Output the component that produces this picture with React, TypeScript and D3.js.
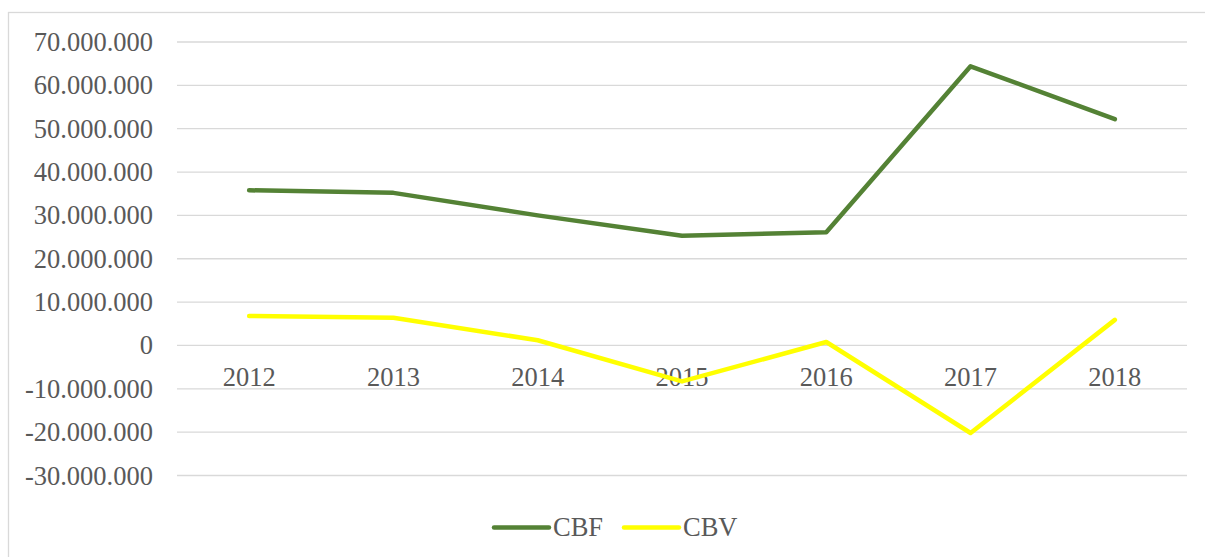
import React from "react";
import * as d3 from "d3";

const years = ["2012", "2013", "2014", "2015", "2016", "2017", "2018"];
const cbf = [35800000, 35200000, 30000000, 25300000, 26100000, 64400000, 52200000];
const cbv = [6800000, 6400000, 1200000, -8300000, 800000, -20200000, 5900000];
const yTicks = [70000000, 60000000, 50000000, 40000000, 30000000, 20000000, 10000000, 0, -10000000, -20000000, -30000000];
const seriesNames = ["CBF", "CBV"];
const seriesColors = ["#548235", "#FFFF00"];

const W = 1205;
const H = 557;
const left = 177;
const right = 1187;
const top = 42;
const bottom = 475.5;

const fmt = (v: number) => {
  if (v === 0) return "0";
  const s = d3.format(",")(Math.abs(v)).replace(/,/g, ".");
  return (v < 0 ? "-" : "") + s;
};

export default function App() {
  const x = d3.scaleBand<string>().domain(years).range([left, right]);
  const y = d3.scaleLinear().domain([-30000000, 70000000]).range([bottom, top]);
  const cx = (d: string) => (x(d) ?? 0) + x.bandwidth() / 2;
  const line = d3
    .line<number>()
    .x((_, i) => cx(years[i]))
    .y((v) => y(v));
  const font = "'Liberation Serif', 'Times New Roman', serif";
  const series = [cbf, cbv];
  return (
    <div style={{ position: "absolute", left: 0, top: 0 }}>
      <svg width={W} height={H} style={{ display: "block" }}>
        <rect x={0} y={0} width={W} height={H} fill="#fff" />
        <rect x={8.5} y={12.5} width={1230} height={600} fill="#fff" stroke="#d9d9d9" strokeWidth={1.3} />
        {yTicks.map((t) => (
          <g key={t}>
            <line x1={left} x2={right} y1={y(t)} y2={y(t)} stroke="#d9d9d9" strokeWidth={1.3} />
            <text x={153} y={y(t) + 9} textAnchor="end" fontFamily={font} fontSize={26.5} fill="#595959">
              {fmt(t)}
            </text>
          </g>
        ))}
        {years.map((yr) => (
          <text key={yr} x={cx(yr)} y={386} textAnchor="middle" fontFamily={font} fontSize={26.5} fill="#595959">
            {yr}
          </text>
        ))}
        {series.map((s, i) => (
          <path
            key={i}
            d={line(s) ?? ""}
            fill="none"
            stroke={seriesColors[i]}
            strokeWidth={4.5}
            strokeLinejoin="round"
            strokeLinecap="round"
          />
        ))}
        {seriesNames.map((n, i) => {
          const lx = 494 + i * 130;
          return (
            <g key={n}>
              <line x1={lx} x2={lx + 55} y1={527.5} y2={527.5} stroke={seriesColors[i]} strokeWidth={4.5} strokeLinecap="round" />
              <text x={lx + 59} y={536} fontFamily={font} fontSize={26.5} fill="#595959">
                {n}
              </text>
            </g>
          );
        })}
      </svg>
    </div>
  );
}
